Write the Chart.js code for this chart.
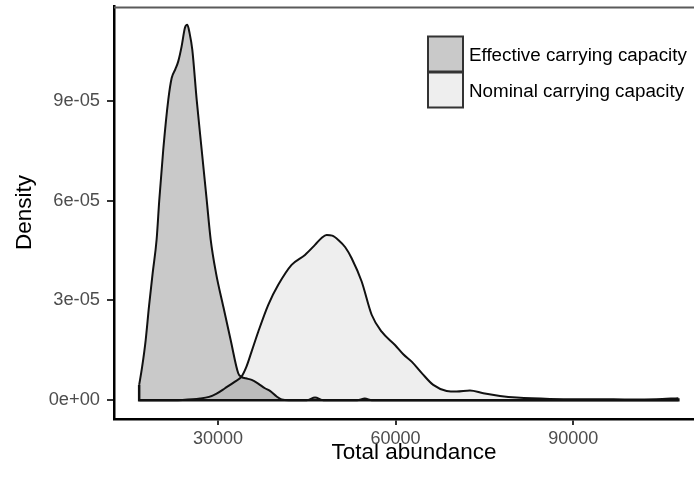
<!DOCTYPE html>
<html>
<head>
<meta charset="utf-8">
<script src="https://cdn.jsdelivr.net/npm/chart.js@4.4.0/dist/chart.umd.min.js"></script>
<style>
    html, body { margin: 0; padding: 0; background: #fff; overflow: hidden; }
    #wrap { width: 730px; height: 480px; }
</style>
</head>
<body>
<div id="wrap"><canvas id="density-chart" width="730" height="480"></canvas></div>
<script>
const seriesLabels = ['Effective carrying capacity', 'Nominal carrying capacity'];

// effective carrying capacity: total abundance vs density
const effAbundance = [16700, 17200, 17800, 18360, 18980, 19650, 20100, 20770, 21620,
    22190, 22800, 23300, 23870, 24430, 24830, 25200, 25670, 26410, 27250,
    28100, 28770, 29670, 30900, 32150, 33430, 33890, 34700, 35700, 36800,
    37940, 38790, 39920, 40760, 42000, 45000, 46400, 47800, 53500, 54800,
    56000, 70000, 90000, 107750];
const effDensity = [0.46e-5, 1.0e-5, 1.81e-5, 2.82e-5, 3.82e-5, 4.84e-5, 6.03e-5, 7.54e-5, 9.04e-5,
    9.69e-5, 9.95e-5, 10.19e-5, 10.64e-5, 11.2e-5, 11.29e-5, 11.05e-5, 10.54e-5, 9.04e-5, 7.54e-5,
    6.03e-5, 4.84e-5, 3.83e-5, 2.82e-5, 1.81e-5, 0.81e-5, 0.71e-5, 0.66e-5, 0.61e-5, 0.50e-5,
    0.36e-5, 0.28e-5, 0.11e-5, 0.02e-5, 0, 0, 0.08e-5, 0, 0, 0.05e-5,
    0, 0, 0, 0];

// nominal carrying capacity
const nomAbundance = [16700, 20000, 24000, 27000, 28500, 29780, 31190, 32880, 33990, 34800,
    35680, 36810, 38500, 40190, 42440, 44700, 46390, 47500, 48360, 49300,
    50330, 51500, 52580, 54270, 55960, 57650, 59900, 61300, 62720, 64500,
    66360, 68620, 70310, 72560, 74810, 77630, 80440, 86070, 94510, 100000,
    104000, 107750];
const nomDensity = [0, 0, 0.01e-5, 0.05e-5, 0.1e-5, 0.2e-5, 0.36e-5, 0.56e-5, 0.71e-5, 1.0e-5,
    1.46e-5, 2.06e-5, 2.87e-5, 3.47e-5, 4.07e-5, 4.37e-5, 4.67e-5, 4.88e-5, 4.97e-5, 4.95e-5,
    4.82e-5, 4.6e-5, 4.27e-5, 3.57e-5, 2.57e-5, 2.06e-5, 1.66e-5, 1.38e-5, 1.16e-5, 0.8e-5,
    0.46e-5, 0.28e-5, 0.26e-5, 0.29e-5, 0.21e-5, 0.13e-5, 0.08e-5, 0.04e-5, 0.03e-5, 0.02e-5,
    0.03e-5, 0.06e-5];

const xTicks = [30000, 60000, 90000];
const yTicks = [0, 3e-5, 6e-5, 9e-5];
const yTickLabels = ['0e+00', '3e-05', '6e-05', '9e-05'];

const toPoints = (xs, ys) => xs.map((x, i) => ({ x: x, y: ys[i] }));

// closing edges of the density polygons: left edge, baseline, right edge
const lastNom = nomAbundance.length - 1;
const outlinePoints = [
    { x: effAbundance[0], y: effDensity[0] },
    { x: effAbundance[0], y: 0 },
    { x: nomAbundance[lastNom], y: 0 },
    { x: nomAbundance[lastNom], y: nomDensity[lastNom] }
];

const FONT = 'Liberation Sans, Arial, Helvetica, sans-serif';

// panel top edge + legend drawn inside the plot
const panelExtras = {
    id: 'panelExtras',
    afterDraw(chart) {
        const { ctx, chartArea } = chart;
        ctx.save();
        ctx.strokeStyle = '#5a5a5a';
        ctx.lineWidth = 2;
        ctx.beginPath();
        ctx.moveTo(chartArea.left, chartArea.top + 1.5);
        ctx.lineTo(chart.width, chartArea.top + 1.5);
        ctx.stroke();

        const keySize = 35;
        const keyX = chartArea.right - 286;
        let keyY = chartArea.top + 30.5;
        ctx.font = '18.8px ' + FONT;
        ctx.textBaseline = 'middle';
        ctx.textAlign = 'left';
        chart.data.datasets.slice(0, 2).forEach(ds => {
            ctx.fillStyle = '#fff';
            ctx.fillRect(keyX, keyY, keySize, keySize);
            ctx.fillStyle = ds.backgroundColor;
            ctx.fillRect(keyX, keyY, keySize, keySize);
            ctx.strokeStyle = '#333';
            ctx.lineWidth = 2;
            ctx.strokeRect(keyX, keyY, keySize, keySize);
            ctx.fillStyle = '#000';
            ctx.fillText(ds.label, keyX + keySize + 6, keyY + keySize / 2 + 2);
            keyY += keySize + 1;
        });
        ctx.restore();
    }
};

const noEdgePadding = scale => {
    scale.paddingTop = 0;
    scale.paddingBottom = 0;
    scale.paddingLeft = 0;
    scale.paddingRight = 0;
};

const ctx = document.getElementById('density-chart').getContext('2d');
new Chart(ctx, {
    type: 'line',
    data: {
        datasets: [
            {
                label: seriesLabels[0],
                data: toPoints(effAbundance, effDensity),
                borderColor: '#111',
                borderWidth: 2,
                backgroundColor: 'rgba(0,0,0,0.21)',
                fill: 'origin',
                pointRadius: 0,
                cubicInterpolationMode: 'monotone'
            },
            {
                label: seriesLabels[1],
                data: toPoints(nomAbundance, nomDensity),
                borderColor: '#111',
                borderWidth: 2,
                backgroundColor: 'rgba(0,0,0,0.068)',
                fill: 'origin',
                pointRadius: 0,
                cubicInterpolationMode: 'monotone'
            },
            {
                label: 'outline',
                data: outlinePoints,
                borderColor: '#111',
                borderWidth: 2.5,
                fill: false,
                pointRadius: 0,
                tension: 0
            }
        ]
    },
    options: {
        responsive: false,
        animation: false,
        events: [],
        layout: { padding: { top: 6, right: 16, bottom: 0, left: 0 } },
        plugins: {
            legend: { display: false },
            tooltip: { enabled: false },
            filler: { drawTime: 'beforeDatasetsDraw' }
        },
        scales: {
            x: {
                type: 'linear',
                min: 12450,
                max: 113770,
                afterBuildTicks: scale => { scale.ticks = xTicks.map(v => ({ value: v })); },
                afterFit: scale => { scale.height = 61; noEdgePadding(scale); },
                border: { display: true, color: '#000', width: 2.5 },
                grid: { drawOnChartArea: false, drawTicks: true, tickLength: 6, tickColor: '#333', tickWidth: 2, lineWidth: 2 },
                ticks: {
                    color: '#4d4d4d',
                    font: { family: FONT, size: 18 },
                    padding: 3,
                    maxRotation: 0,
                    callback: v => String(v)
                },
                title: {
                    display: true,
                    text: 'Total abundance',
                    color: '#000',
                    font: { family: FONT, size: 22.5 },
                    padding: { top: 0, bottom: 14 }
                }
            },
            y: {
                min: -5.65e-6,
                max: 1.1855e-4,
                afterBuildTicks: scale => { scale.ticks = yTicks.map(v => ({ value: v })); },
                afterFit: scale => { scale.width = 114; noEdgePadding(scale); },
                border: { display: true, color: '#000', width: 2.5 },
                grid: { drawOnChartArea: false, drawTicks: true, tickLength: 7, tickColor: '#333', tickWidth: 2, lineWidth: 2 },
                ticks: {
                    color: '#4d4d4d',
                    font: { family: FONT, size: 18.3 },
                    padding: 7,
                    callback: (v) => yTickLabels[yTicks.indexOf(v)]
                },
                title: {
                    display: true,
                    text: 'Density',
                    color: '#000',
                    font: { family: FONT, size: 22.5 },
                    padding: { top: 11, bottom: 0 }
                }
            }
        }
    },
    plugins: [panelExtras]
});
</script>
</body>
</html>
